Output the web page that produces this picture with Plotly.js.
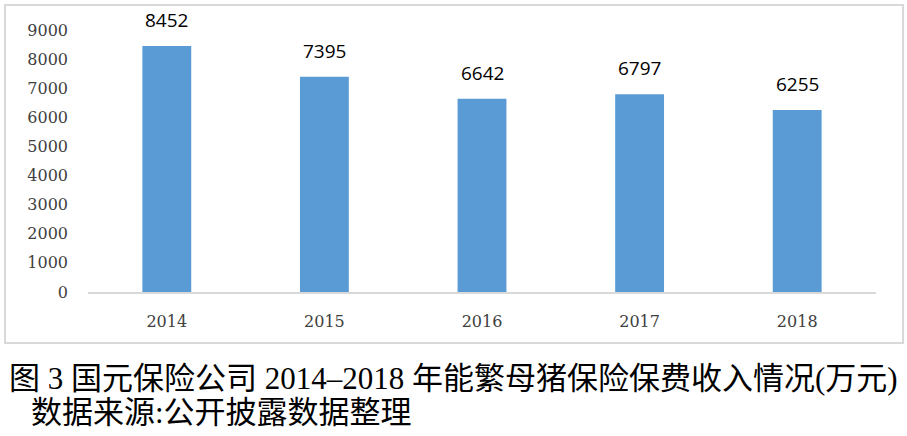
<!DOCTYPE html>
<html><head><meta charset="utf-8">
<script src="https://cdn.plot.ly/plotly-3.0.1.min.js"></script>
<style>html,body{margin:0;padding:0;background:#fff}#c{width:907px;height:436px}</style>
</head><body><div id="c"></div>
<script>
var years = ['2014','2015','2016','2017','2018'];
var premiums = [8452, 7395, 6642, 6797, 6255];
var yTicks = [0,1000,2000,3000,4000,5000,6000,7000,8000,9000];
var captionLine1 = '图 3 国元保险公司 2014–2018 年能繁母猪保险保费收入情况(万元)';
var captionLine2 = '数据来源:公开披露数据整理';

var trace = {
  type: 'bar', x: years, y: premiums,
  marker: {color: '#5B9BD5'},
  hoverinfo: 'none'
};
var labels = years.map(function(y, i){
  return {x: i, y: premiums[i], xref: 'x', yref: 'y', text: String(premiums[i]),
    showarrow: false, yanchor: 'bottom', yshift: 11,
    font: {family: 'Open Sans, Liberation Sans, sans-serif', size: 19, color: '#000'}};
});
var capFont = {family: 'Liberation Serif, Noto Sans CJK SC, serif', size: 31, color: '#000'};
labels.push({xref:'paper', yref:'paper', x: -0.103, y: -0.33, xanchor:'left', yanchor:'middle',
  text: captionLine1, showarrow:false, font: capFont});
labels.push({xref:'paper', yref:'paper', x: -0.075, y: -0.46, xanchor:'left', yanchor:'middle',
  text: captionLine2, showarrow:false, font: capFont});

var tickFont = {family: 'DejaVu Serif, Liberation Serif, serif', size: 16, color: '#404040'};
var layout = {
  width: 907, height: 436,
  margin: {l: 88, r: 31, t: 30, b: 144},
  paper_bgcolor: '#fff', plot_bgcolor: '#fff',
  bargap: 0.69,
  showlegend: false,
  xaxis: {type: 'category', range: [-0.5, 4.5], showgrid: false, showline: true, linecolor: '#d9d9d9', linewidth: 1.5,
    ticks: '', ticklabelstandoff: 14, tickfont: tickFont},
  yaxis: {range: [0, 9000], tickvals: yTicks, showgrid: false, zeroline: false, showline: false,
    ticks: '', ticklabelstandoff: 19, tickfont: tickFont},
  shapes: [{type: 'rect', xref: 'paper', yref: 'paper', x0: -0.1053, x1: 1.0343, y0: -0.1947, y1: 1.0954,
    line: {color: '#d9d9d9', width: 2}, fillcolor: 'rgba(0,0,0,0)', layer: 'below'}],
  annotations: labels
};
Plotly.newPlot('c', [trace], layout, {displayModeBar: false, staticPlot: true});
</script></body></html>
